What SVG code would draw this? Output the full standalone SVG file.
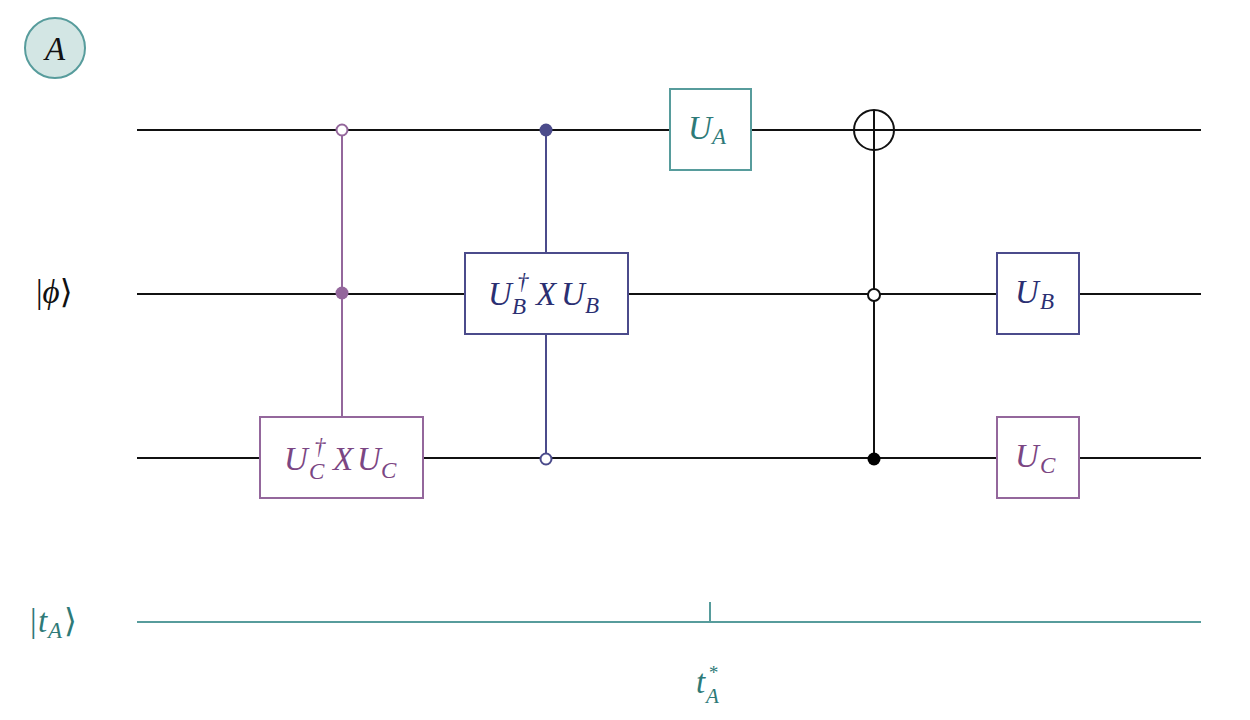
<svg xmlns="http://www.w3.org/2000/svg" width="1250" height="720" viewBox="0 0 1250 720">
<style>
.m{font-family:"Liberation Serif","Times New Roman",serif;font-style:italic;font-size:33px}
.s{font-size:23px}
.u{font-family:"Liberation Serif","DejaVu Serif",serif;font-size:33px}
.wire{stroke:#111;stroke-width:2;fill:none}
.pur{stroke:#94679c;stroke-width:2}
.nav{stroke:#4b4b8b;stroke-width:2}
.tea{stroke:#579c9c;stroke-width:2}
.tp{fill:#7b4683}
.tn{fill:#2b2f72}
.tt{fill:#2e7a78}
.open{fill:#fff}
</style>
<g id="wires">
<line class="wire" x1="137" y1="130" x2="1201" y2="130"/>
<line class="wire" x1="137" y1="294" x2="1201" y2="294"/>
<line class="wire" x1="137" y1="458" x2="1201" y2="458"/>
<line class="tea" x1="137" y1="622" x2="1201" y2="622"/>
<line class="tea" x1="710" y1="602" x2="710" y2="622"/>
</g>
<g id="connectors">
<line class="pur" x1="342" y1="130" x2="342" y2="417"/>
<line class="nav" x1="546" y1="130" x2="546" y2="253"/>
<line class="nav" x1="546" y1="334" x2="546" y2="459"/>
<line class="wire" x1="874" y1="110" x2="874" y2="459"/>
</g>
<g id="label-A">
<circle cx="55" cy="48" r="30" fill="#d3e6e4" stroke="#579c9c" stroke-width="2"/>
<text class="m" x="55" y="60" text-anchor="middle" fill="#111">A</text>
</g>
<g id="label-phi">
<text class="u" x="36" y="303" fill="#111">|<tspan font-style="italic">ϕ</tspan>⟩</text>
</g>
<g id="label-tA">
<text class="u tt"><tspan x="30" y="632">|</tspan><tspan font-style="italic" x="38" y="632">t</tspan><tspan class="s" font-style="italic" x="48" y="638">A</tspan><tspan x="64" y="632">⟩</tspan></text>
</g>
<g id="label-tstar">
<text class="m tt"><tspan x="696" y="693">t</tspan><tspan font-size="19" x="708" y="679">*</tspan><tspan font-size="21" x="706" y="703">A</tspan></text>
</g>
<g id="gate-UC-dag">
<circle cx="342" cy="130" r="5.5" class="pur open"/>
<circle cx="342" cy="293" r="6.5" fill="#94679c"/>
<rect x="260" y="417" width="163" height="81" class="pur open"/>
<text class="m tp"><tspan x="284" y="470">U</tspan><tspan class="s" x="314" y="454">†</tspan><tspan class="s" x="309" y="479">C</tspan><tspan x="333" y="470">X</tspan><tspan x="357" y="470">U</tspan><tspan class="s" x="381" y="478">C</tspan></text>
</g>
<g id="gate-UB-dag">
<circle cx="546" cy="130" r="6.5" fill="#4b4b8b"/>
<circle cx="546" cy="459" r="5.5" class="nav open"/>
<rect x="465" y="253" width="163" height="81" class="nav open"/>
<text class="m tn"><tspan x="488" y="305">U</tspan><tspan class="s" x="517" y="289">†</tspan><tspan class="s" x="512" y="314">B</tspan><tspan x="536" y="305">X</tspan><tspan x="561" y="305">U</tspan><tspan class="s" x="585" y="313">B</tspan></text>
</g>
<g id="gate-UA">
<rect x="670" y="89" width="81" height="81" class="tea open"/>
<text class="m tt"><tspan x="688" y="139">U</tspan><tspan class="s" x="712" y="144">A</tspan></text>
</g>
<g id="gate-CNOT">
<circle cx="874" cy="130" r="20" class="wire"/>
<line class="wire" x1="854" y1="130" x2="894" y2="130"/>
<circle cx="874" cy="295" r="6" class="wire open"/>
<circle cx="874" cy="459" r="6.5" fill="#000"/>
</g>
<g id="gate-UB">
<rect x="997" y="253" width="82" height="81" class="nav open"/>
<text class="m tn"><tspan x="1015" y="303">U</tspan><tspan class="s" x="1040" y="309">B</tspan></text>
</g>
<g id="gate-UC">
<rect x="997" y="417" width="82" height="81" class="pur open"/>
<text class="m tp"><tspan x="1015" y="467">U</tspan><tspan class="s" x="1040" y="473">C</tspan></text>
</g>
</svg>
